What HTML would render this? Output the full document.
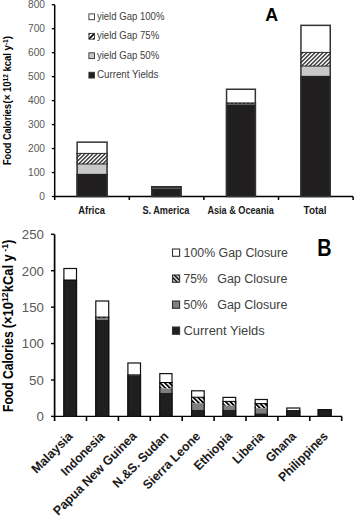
<!DOCTYPE html>
<html><head><meta charset="utf-8"><style>
html,body{margin:0;padding:0;background:#fff;}
body{width:354px;height:516px;overflow:hidden;}
svg{display:block;}
text{font-family:"Liberation Sans", sans-serif;}
.tl{font-size:10.2px;fill:#595959;text-anchor:end;}
.bl{font-size:12.4px;fill:#595959;text-anchor:end;}
.cl{font-size:10.6px;font-weight:bold;fill:#1a1a1a;text-anchor:middle;}
.rl{font-size:12.7px;font-weight:bold;fill:#1a1a1a;text-anchor:end;}
.lg{font-size:10px;fill:#404040;}
.lb{font-size:12px;fill:#404040;}
.lab{font-weight:bold;fill:#000;}
.yt{font-weight:bold;fill:#000;}
</style></head><body>
<svg width="354" height="516" viewBox="0 0 354 516">
<defs>
<pattern id="hatA" width="2.85" height="2.85" patternUnits="userSpaceOnUse" patternTransform="rotate(45)"><rect width="2.85" height="2.85" fill="#fff"/><rect width="1.15" height="2.85" fill="#000"/></pattern>
<pattern id="hatAL" x="1.22" width="3.4" height="3.4" patternUnits="userSpaceOnUse" patternTransform="rotate(45)"><rect width="3.4" height="3.4" fill="#fff"/><rect width="1.7" height="3.4" fill="#000"/></pattern>
<pattern id="hatB" width="3.3" height="3.3" patternUnits="userSpaceOnUse" patternTransform="rotate(-45)"><rect width="3.3" height="3.3" fill="#fff"/><rect width="1.8" height="3.3" fill="#000"/></pattern>
<pattern id="hatBL" width="3" height="3" patternUnits="userSpaceOnUse" patternTransform="rotate(-45)"><rect width="3" height="3" fill="#fff"/><rect width="1.6" height="3" fill="#000"/></pattern>
</defs>
<rect width="354" height="516" fill="#fff"/>
<line x1="54.7" y1="4.7" x2="54.7" y2="200" stroke="#000" stroke-width="1.5"/>
<line x1="51.8" y1="196.50" x2="54.7" y2="196.50" stroke="#000" stroke-width="1.3"/>
<text x="45.00" y="200.10" class="tl">0</text>
<line x1="51.8" y1="172.53" x2="54.7" y2="172.53" stroke="#000" stroke-width="1.3"/>
<text x="45.00" y="176.13" class="tl">100</text>
<line x1="51.8" y1="148.56" x2="54.7" y2="148.56" stroke="#000" stroke-width="1.3"/>
<text x="45.00" y="152.16" class="tl">200</text>
<line x1="51.8" y1="124.59" x2="54.7" y2="124.59" stroke="#000" stroke-width="1.3"/>
<text x="45.00" y="128.19" class="tl">300</text>
<line x1="51.8" y1="100.62" x2="54.7" y2="100.62" stroke="#000" stroke-width="1.3"/>
<text x="45.00" y="104.22" class="tl">400</text>
<line x1="51.8" y1="76.65" x2="54.7" y2="76.65" stroke="#000" stroke-width="1.3"/>
<text x="45.00" y="80.25" class="tl">500</text>
<line x1="51.8" y1="52.68" x2="54.7" y2="52.68" stroke="#000" stroke-width="1.3"/>
<text x="45.00" y="56.28" class="tl">600</text>
<line x1="51.8" y1="28.71" x2="54.7" y2="28.71" stroke="#000" stroke-width="1.3"/>
<text x="45.00" y="32.31" class="tl">700</text>
<line x1="51.8" y1="4.74" x2="54.7" y2="4.74" stroke="#000" stroke-width="1.3"/>
<text x="45.00" y="8.34" class="tl">800</text>
<line x1="54.0" y1="196.5" x2="353" y2="196.5" stroke="#000" stroke-width="1.3"/>
<line x1="129.30" y1="196.5" x2="129.30" y2="200" stroke="#000" stroke-width="1.5"/>
<line x1="203.90" y1="196.5" x2="203.90" y2="200" stroke="#000" stroke-width="1.5"/>
<line x1="278.50" y1="196.5" x2="278.50" y2="200" stroke="#000" stroke-width="1.5"/>
<line x1="353.10" y1="196.5" x2="353.10" y2="200" stroke="#000" stroke-width="1.5"/>
<rect x="76.40" y="141.4" width="31.40" height="12.00" fill="#fff"/>
<rect x="76.40" y="153.4" width="31.40" height="10.60" fill="url(#hatA)"/>
<rect x="76.40" y="164.0" width="31.40" height="9.80" fill="#c8c8c8"/>
<rect x="76.40" y="173.8" width="31.40" height="22.70" fill="#201e1f"/>
<line x1="76.40" y1="153.4" x2="107.80" y2="153.4" stroke="#000" stroke-width="0.8"/>
<line x1="76.40" y1="164.0" x2="107.80" y2="164.0" stroke="#000" stroke-width="0.8"/>
<rect x="77.15" y="142.15" width="29.90" height="54.35" fill="none" stroke="#333" stroke-width="1.5"/>
<rect x="151.00" y="186.8" width="30.70" height="0.00" fill="#fff"/>
<rect x="151.00" y="186.8" width="30.70" height="0.00" fill="url(#hatA)"/>
<rect x="151.00" y="186.8" width="30.70" height="0.00" fill="#c8c8c8"/>
<rect x="151.00" y="186.8" width="30.70" height="9.70" fill="#201e1f"/>
<line x1="151.00" y1="186.8" x2="181.70" y2="186.8" stroke="#000" stroke-width="0.8"/>
<line x1="151.00" y1="186.8" x2="181.70" y2="186.8" stroke="#000" stroke-width="0.8"/>
<rect x="151.75" y="187.55" width="29.20" height="8.95" fill="none" stroke="#333" stroke-width="1.5"/>
<rect x="225.80" y="88.5" width="30.30" height="14.40" fill="#fff"/>
<rect x="225.80" y="102.9" width="30.30" height="1.00" fill="url(#hatA)"/>
<rect x="225.80" y="103.9" width="30.30" height="0.70" fill="#c8c8c8"/>
<rect x="225.80" y="104.6" width="30.30" height="91.90" fill="#201e1f"/>
<line x1="225.80" y1="102.9" x2="256.10" y2="102.9" stroke="#000" stroke-width="0.8"/>
<line x1="225.80" y1="103.9" x2="256.10" y2="103.9" stroke="#000" stroke-width="0.8"/>
<rect x="226.55" y="89.25" width="28.80" height="107.25" fill="none" stroke="#333" stroke-width="1.5"/>
<rect x="300.20" y="24.6" width="30.80" height="27.80" fill="#fff"/>
<rect x="300.20" y="52.4" width="30.80" height="13.70" fill="url(#hatA)"/>
<rect x="300.20" y="66.1" width="30.80" height="9.70" fill="#c8c8c8"/>
<rect x="300.20" y="75.8" width="30.80" height="120.70" fill="#201e1f"/>
<line x1="300.20" y1="52.4" x2="331.00" y2="52.4" stroke="#000" stroke-width="0.8"/>
<line x1="300.20" y1="66.1" x2="331.00" y2="66.1" stroke="#000" stroke-width="0.8"/>
<rect x="300.95" y="25.35" width="29.30" height="171.15" fill="none" stroke="#333" stroke-width="1.5"/>
<rect x="152.2" y="187.8" width="28.3" height="1.3" fill="#555"/>
<text x="91.60" y="214.00" class="cl" textLength="26.5" lengthAdjust="spacingAndGlyphs">Africa</text>
<text x="165.90" y="214.00" class="cl" textLength="47" lengthAdjust="spacingAndGlyphs">S. America</text>
<text x="240.65" y="214.00" class="cl" textLength="66.5" lengthAdjust="spacingAndGlyphs">Asia &amp; Oceania</text>
<text x="315.05" y="214.00" class="cl" textLength="23" lengthAdjust="spacingAndGlyphs">Total</text>
<rect x="88.9" y="13.90" width="5.6" height="5.8" fill="#fff" stroke="#333" stroke-width="0.9"/>
<text x="96.90" y="19.60" class="lg" textLength="67.5" lengthAdjust="spacingAndGlyphs">yield Gap 100%</text>
<rect x="88.9" y="33.35" width="5.6" height="5.8" fill="url(#hatAL)" stroke="#333" stroke-width="0.9"/>
<text x="96.90" y="39.05" class="lg" textLength="62.3" lengthAdjust="spacingAndGlyphs">yield Gap 75%</text>
<rect x="88.9" y="52.80" width="5.6" height="5.8" fill="#c8c8c8" stroke="#333" stroke-width="0.9"/>
<text x="96.90" y="58.50" class="lg" textLength="62.3" lengthAdjust="spacingAndGlyphs">yield Gap 50%</text>
<rect x="88.9" y="72.25" width="5.6" height="5.8" fill="#201e1f" stroke="#333" stroke-width="0.9"/>
<text x="96.90" y="77.95" class="lg" textLength="61.5" lengthAdjust="spacingAndGlyphs">Current Yields</text>
<text x="265.2" y="20.8" class="lab" style="font-size:17.8px">A</text>
<text transform="translate(11.2,165.0) rotate(-90) scale(0.864,1)" class="yt" style="font-size:10.6px">Food Calories</text>
<text transform="translate(11.2,103.5) rotate(-90) scale(0.901,1)" class="yt" style="font-size:10.6px">(× 10<tspan dy="-3.6" style="font-size:7.2px">12</tspan><tspan dy="3.6"> kcal y</tspan><tspan dy="-3.6" style="font-size:7.2px">-1</tspan><tspan dy="3.6">)</tspan></text>
<line x1="54.6" y1="234.5" x2="54.6" y2="421" stroke="#000" stroke-width="1.7"/>
<line x1="51" y1="416.40" x2="54.6" y2="416.40" stroke="#000" stroke-width="1.4"/>
<text x="43.90" y="421.20" class="bl" textLength="7.4" lengthAdjust="spacingAndGlyphs">0</text>
<line x1="51" y1="379.98" x2="54.6" y2="379.98" stroke="#000" stroke-width="1.4"/>
<text x="43.90" y="384.78" class="bl" textLength="14.8" lengthAdjust="spacingAndGlyphs">50</text>
<line x1="51" y1="343.56" x2="54.6" y2="343.56" stroke="#000" stroke-width="1.4"/>
<text x="43.90" y="348.36" class="bl" textLength="22.1" lengthAdjust="spacingAndGlyphs">100</text>
<line x1="51" y1="307.14" x2="54.6" y2="307.14" stroke="#000" stroke-width="1.4"/>
<text x="43.90" y="311.94" class="bl" textLength="22.1" lengthAdjust="spacingAndGlyphs">150</text>
<line x1="51" y1="270.72" x2="54.6" y2="270.72" stroke="#000" stroke-width="1.4"/>
<text x="43.90" y="275.52" class="bl" textLength="22.1" lengthAdjust="spacingAndGlyphs">200</text>
<line x1="51" y1="234.30" x2="54.6" y2="234.30" stroke="#000" stroke-width="1.4"/>
<text x="43.90" y="239.10" class="bl" textLength="22.1" lengthAdjust="spacingAndGlyphs">250</text>
<line x1="53.800000000000004" y1="416.4" x2="342" y2="416.4" stroke="#000" stroke-width="1.4"/>
<line x1="86.50" y1="416.4" x2="86.50" y2="421" stroke="#000" stroke-width="1.6"/>
<line x1="118.40" y1="416.4" x2="118.40" y2="421" stroke="#000" stroke-width="1.6"/>
<line x1="150.30" y1="416.4" x2="150.30" y2="421" stroke="#000" stroke-width="1.6"/>
<line x1="182.20" y1="416.4" x2="182.20" y2="421" stroke="#000" stroke-width="1.6"/>
<line x1="214.10" y1="416.4" x2="214.10" y2="421" stroke="#000" stroke-width="1.6"/>
<line x1="246.00" y1="416.4" x2="246.00" y2="421" stroke="#000" stroke-width="1.6"/>
<line x1="277.90" y1="416.4" x2="277.90" y2="421" stroke="#000" stroke-width="1.6"/>
<line x1="309.80" y1="416.4" x2="309.80" y2="421" stroke="#000" stroke-width="1.6"/>
<line x1="341.70" y1="416.4" x2="341.70" y2="421" stroke="#000" stroke-width="1.6"/>
<rect x="63.30" y="267.9" width="13.80" height="12.10" fill="#fff"/>
<rect x="63.30" y="280.0" width="13.80" height="136.40" fill="#201e1f"/>
<line x1="63.30" y1="280.0" x2="77.10" y2="280.0" stroke="#000" stroke-width="1"/>
<rect x="63.90" y="268.50" width="12.60" height="147.90" fill="none" stroke="#111" stroke-width="1.2"/>
<rect x="95.20" y="300.4" width="14.10" height="16.70" fill="#fff"/>
<rect x="95.20" y="317.1" width="14.10" height="0.90" fill="url(#hatB)"/>
<rect x="95.20" y="318.0" width="14.10" height="2.00" fill="#7f7f7f"/>
<rect x="95.20" y="320.0" width="14.10" height="96.40" fill="#201e1f"/>
<line x1="95.20" y1="317.1" x2="109.30" y2="317.1" stroke="#000" stroke-width="1"/>
<rect x="95.80" y="301.00" width="12.90" height="115.40" fill="none" stroke="#111" stroke-width="1.2"/>
<rect x="127.30" y="362.4" width="13.80" height="12.50" fill="#fff"/>
<rect x="127.30" y="374.9" width="13.80" height="0.20" fill="url(#hatB)"/>
<rect x="127.30" y="375.1" width="13.80" height="0.20" fill="#7f7f7f"/>
<rect x="127.30" y="375.3" width="13.80" height="41.10" fill="#201e1f"/>
<line x1="127.30" y1="374.9" x2="141.10" y2="374.9" stroke="#000" stroke-width="1"/>
<rect x="127.90" y="363.00" width="12.60" height="53.40" fill="none" stroke="#111" stroke-width="1.2"/>
<rect x="159.20" y="373.0" width="13.40" height="9.50" fill="#fff"/>
<rect x="159.20" y="382.5" width="13.40" height="6.00" fill="url(#hatB)"/>
<rect x="159.20" y="388.5" width="13.40" height="4.20" fill="#7f7f7f"/>
<rect x="159.20" y="392.7" width="13.40" height="23.70" fill="#201e1f"/>
<line x1="159.20" y1="382.5" x2="172.60" y2="382.5" stroke="#000" stroke-width="1"/>
<rect x="159.80" y="373.60" width="12.20" height="42.80" fill="none" stroke="#111" stroke-width="1.2"/>
<rect x="191.00" y="390.2" width="13.80" height="7.00" fill="#fff"/>
<rect x="191.00" y="397.2" width="13.80" height="6.00" fill="url(#hatB)"/>
<rect x="191.00" y="403.2" width="13.80" height="6.70" fill="#7f7f7f"/>
<rect x="191.00" y="409.9" width="13.80" height="6.50" fill="#201e1f"/>
<line x1="191.00" y1="397.2" x2="204.80" y2="397.2" stroke="#000" stroke-width="1"/>
<rect x="191.60" y="390.80" width="12.60" height="25.60" fill="none" stroke="#111" stroke-width="1.2"/>
<rect x="222.40" y="396.8" width="13.90" height="4.60" fill="#fff"/>
<rect x="222.40" y="401.4" width="13.90" height="4.30" fill="url(#hatB)"/>
<rect x="222.40" y="405.7" width="13.90" height="4.20" fill="#7f7f7f"/>
<rect x="222.40" y="409.9" width="13.90" height="6.50" fill="#201e1f"/>
<line x1="222.40" y1="401.4" x2="236.30" y2="401.4" stroke="#000" stroke-width="1"/>
<rect x="223.00" y="397.40" width="12.70" height="19.00" fill="none" stroke="#111" stroke-width="1.2"/>
<rect x="254.60" y="398.9" width="13.30" height="4.70" fill="#fff"/>
<rect x="254.60" y="403.6" width="13.30" height="4.60" fill="url(#hatB)"/>
<rect x="254.60" y="408.2" width="13.30" height="5.10" fill="#7f7f7f"/>
<rect x="254.60" y="413.3" width="13.30" height="3.10" fill="#201e1f"/>
<line x1="254.60" y1="403.6" x2="267.90" y2="403.6" stroke="#000" stroke-width="1"/>
<rect x="255.20" y="399.50" width="12.10" height="16.90" fill="none" stroke="#111" stroke-width="1.2"/>
<rect x="286.20" y="407.4" width="14.20" height="2.60" fill="#fff"/>
<rect x="286.20" y="410.0" width="14.20" height="6.40" fill="#201e1f"/>
<rect x="286.80" y="408.00" width="13.00" height="8.40" fill="none" stroke="#111" stroke-width="1.2"/>
<rect x="317.60" y="409.1" width="14.10" height="0.00" fill="#fff"/>
<rect x="317.60" y="409.1" width="14.10" height="7.30" fill="#201e1f"/>
<rect x="318.20" y="409.70" width="12.90" height="6.70" fill="none" stroke="#111" stroke-width="1.2"/>
<text transform="translate(73.55,437.00) rotate(-45)" class="rl" textLength="52.4" lengthAdjust="spacingAndGlyphs">Malaysia</text>
<text transform="translate(105.45,437.00) rotate(-45)" class="rl" textLength="55.8" lengthAdjust="spacingAndGlyphs">Indonesia</text>
<text transform="translate(137.35,437.00) rotate(-45)" class="rl" textLength="111.7" lengthAdjust="spacingAndGlyphs">Papua New Guinea</text>
<text transform="translate(169.25,437.00) rotate(-45)" class="rl" textLength="72.7" lengthAdjust="spacingAndGlyphs">N.&amp;S. Sudan</text>
<text transform="translate(201.15,437.00) rotate(-45)" class="rl" textLength="75.0" lengthAdjust="spacingAndGlyphs">Sierra Leone</text>
<text transform="translate(233.05,437.00) rotate(-45)" class="rl" textLength="48.1" lengthAdjust="spacingAndGlyphs">Ethiopia</text>
<text transform="translate(264.95,437.00) rotate(-45)" class="rl" textLength="38.9" lengthAdjust="spacingAndGlyphs">Liberia</text>
<text transform="translate(296.85,437.00) rotate(-45)" class="rl" textLength="36.8" lengthAdjust="spacingAndGlyphs">Ghana</text>
<text transform="translate(328.75,437.00) rotate(-45)" class="rl" textLength="63.9" lengthAdjust="spacingAndGlyphs">Philippines</text>
<rect x="172.5" y="249.00" width="7.1" height="7.3" fill="#fff" stroke="#333" stroke-width="1.1"/>
<text x="183.50" y="256.50" class="lb" textLength="104.5" lengthAdjust="spacingAndGlyphs">100% Gap Closure</text>
<rect x="172.5" y="275.00" width="7.1" height="7.3" fill="url(#hatBL)" stroke="#333" stroke-width="1.1"/>
<text x="183.50" y="282.50" class="lb" textLength="24" lengthAdjust="spacingAndGlyphs">75%</text>
<text x="217.20" y="282.50" class="lb" textLength="70.2" lengthAdjust="spacingAndGlyphs">Gap Closure</text>
<rect x="172.5" y="301.00" width="7.1" height="7.3" fill="#7f7f7f" stroke="#333" stroke-width="1.1"/>
<text x="183.50" y="308.50" class="lb" textLength="24" lengthAdjust="spacingAndGlyphs">50%</text>
<text x="217.20" y="308.50" class="lb" textLength="70.2" lengthAdjust="spacingAndGlyphs">Gap Closure</text>
<rect x="172.5" y="327.00" width="7.1" height="7.3" fill="#201e1f" stroke="#333" stroke-width="1.1"/>
<text x="183.50" y="334.50" class="lb" textLength="81.3" lengthAdjust="spacingAndGlyphs">Current Yields</text>
<text x="317.3" y="255.6" class="lab" style="font-size:23px" textLength="14.3" lengthAdjust="spacingAndGlyphs">B</text>
<text transform="translate(12.6,411.9) rotate(-90) scale(0.877,1)" class="yt" style="font-size:13.8px">Food Calories</text>
<text transform="translate(12.6,328.3) rotate(-90) scale(0.937,1)" class="yt" style="font-size:13.8px">(×10<tspan dy="-4.6" style="font-size:9.4px">12</tspan><tspan dy="4.6">kCal y</tspan><tspan dy="-4.6" style="font-size:9.4px"> -1</tspan><tspan dy="4.6">)</tspan></text>
</svg>
</body></html>
